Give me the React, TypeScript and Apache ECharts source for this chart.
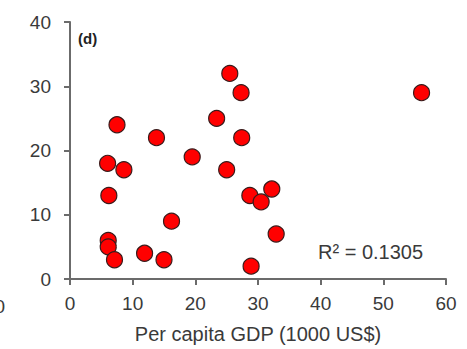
import React, { useEffect, useRef } from "react";
import * as echarts from "echarts";

const gdp = [25.5, 27.3, 23.4, 7.5, 13.8, 27.4, 19.5, 6.0, 8.6, 25.0, 6.2, 16.2, 6.1, 6.1, 7.1, 11.9, 15.0, 28.7, 32.2, 30.5, 32.9, 28.9, 56.1];
const values = [32, 29, 25, 24, 22, 22, 19, 18, 17, 17, 13, 9, 6, 5, 3, 4, 3, 13, 14, 12, 7, 2, 29];
const xTitle = "Per capita GDP (1000 US$)";
const panelLabel = "(d)";
const r2Label = "R² = 0.1305";

const FONT = 'Arial, "Liberation Sans", sans-serif';

export default function App() {
  const ref = useRef<HTMLDivElement>(null);
  useEffect(() => {
    if (!ref.current) return;
    const chart = echarts.init(ref.current, undefined, { renderer: "svg" });
    const axisCommon = {
      axisLine: { show: true, lineStyle: { color: "#6b6b6b", width: 2 } },
      axisTick: { show: true, inside: false, length: 6, lineStyle: { color: "#6b6b6b", width: 2 } },
      splitLine: { show: false },
      axisLabel: { color: "#3a3a3a", fontSize: 19, fontFamily: FONT },
    };
    chart.setOption({
      animation: false,
      grid: { left: 70, right: 21, top: 22, bottom: 67 },
      xAxis: {
        type: "value",
        min: 0,
        max: 60,
        interval: 10,
        ...axisCommon,
        axisLabel: { ...axisCommon.axisLabel, margin: 15 },
        name: xTitle,
        nameLocation: "middle",
        nameGap: 45,
        nameTextStyle: { color: "#3a3a3a", fontSize: 20, fontFamily: FONT },
      },
      yAxis: {
        type: "value",
        min: 0,
        max: 40,
        interval: 10,
        ...axisCommon,
        axisLabel: { ...axisCommon.axisLabel, margin: 19 },
      },
      graphic: [
        { type: "text", left: 78, top: 31, style: { text: panelLabel, font: `bold 15px ${FONT}`, fill: "#222" } },
        { type: "text", left: 318, top: 242, style: { text: r2Label, font: `20px ${FONT}`, fill: "#3a3a3a" } },
        { type: "text", right: 462, top: 297, style: { text: "60", font: `19px ${FONT}`, fill: "#3a3a3a" } },
      ],
      series: [
        {
          type: "scatter",
          data: gdp.map((x, i) => [x, values[i]]),
          symbol: "circle",
          symbolSize: 16,
          itemStyle: { color: "#ff0000", borderColor: "#3a1a1a", borderWidth: 1.2, opacity: 1 },
        },
      ],
    });
    return () => chart.dispose();
  }, []);
  return <div ref={ref} style={{ position: "absolute", left: 0, top: 0, width: 467, height: 349 }} />;
}
